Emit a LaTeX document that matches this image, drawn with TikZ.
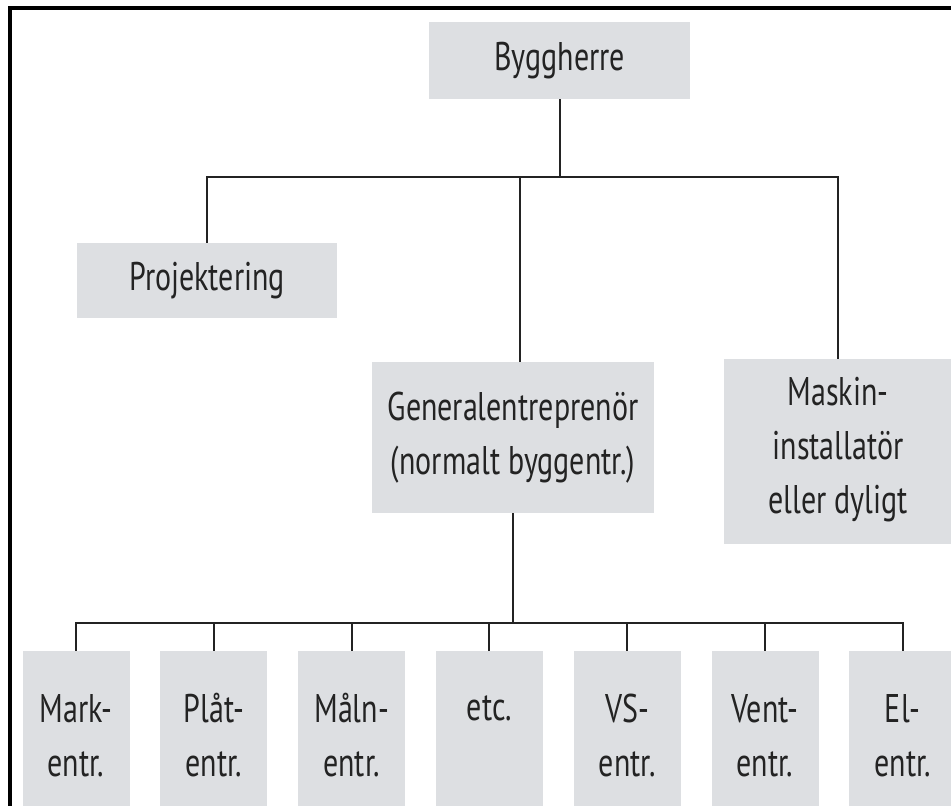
\documentclass[tikz,border=0pt]{standalone}
\usepackage{fontspec}
\setmainfont{PT Sans}[FakeStretch=0.75]
\definecolor{orgfill}{RGB}{221,223,226}
\definecolor{orgink}{RGB}{35,35,35}

\begin{document}
\begin{tikzpicture}[
    x=0.5pt, y=-0.5pt,
    orgbox/.style={rectangle, fill=orgfill, inner sep=0pt, align=center, text=orgink, font=\fontsize{20}{27}\selectfont},
    orgline/.style={draw=orgink, line width=1pt}
]
\clip (0,0) rectangle (951,806);

% Frame
\draw[line width=1.6pt, black] (10,820) -- (10,8) -- (960,8);

% Top level
\node[orgbox, minimum width=130.5pt, minimum height=38.5pt] (bygg) at (559.5, 60.5) {Byggherre};

% Second level
\node[orgbox, minimum width=130pt, minimum height=37.5pt] (proj) at (207, 280.5) {Projektering};
\node[orgbox, minimum width=141pt, minimum height=75.5pt] (gen) at (513, 437.5) {Generalentreprenör\\(normalt byggentr.)};
\node[orgbox, minimum width=114pt, minimum height=92.5pt, text depth=6pt] (mask) at (838, 451.5) {Maskin-\\installatör\\eller dyligt};

% Bottom level (underentreprenörer)
\node[orgbox, minimum width=53.5pt, minimum height=84.5pt] (mark) at (76.0, 735.5) {Mark-\\entr.};
\node[orgbox, minimum width=53.5pt, minimum height=84.5pt] (plat) at (213.8, 735.5) {Plåt-\\entr.};
\node[orgbox, minimum width=53.5pt, minimum height=84.5pt] (maln) at (351.6, 735.5) {Måln-\\entr.};
\node[orgbox, minimum width=53.5pt, minimum height=84.5pt] (etc) at (489.4, 735.5) {etc.\\\phantom{entr.}};
\node[orgbox, minimum width=53.5pt, minimum height=84.5pt] (vs) at (627.2, 735.5) {VS-\\entr.};
\node[orgbox, minimum width=53.5pt, minimum height=84.5pt] (vent) at (765.0, 735.5) {Vent-\\entr.};
\node[orgbox, minimum width=53.5pt, minimum height=84.5pt] (el) at (902.8, 735.5) {El-\\entr.};

% Connectors, top
\coordinate (topbar) at (559.5, 177);
\draw[orgline] (bygg.south) -- (topbar);
\draw[orgline] (proj.north) |- (topbar) -| (mask.north);
\draw[orgline] ([xshift=3.5pt]gen.north) -- ([xshift=3.5pt]gen.north |- topbar);

% Connectors, bottom
\coordinate (lowbar) at (513, 623);
\draw[orgline] (gen.south) -- (lowbar);
\draw[orgline] (mark.north) |- (lowbar) -| (el.north);
\draw[orgline] (plat.north) -- (plat.north |- lowbar);
\draw[orgline] (maln.north) -- (maln.north |- lowbar);
\draw[orgline] (etc.north) -- (etc.north |- lowbar);
\draw[orgline] (vs.north) -- (vs.north |- lowbar);
\draw[orgline] (vent.north) -- (vent.north |- lowbar);

\end{tikzpicture}
\end{document}
